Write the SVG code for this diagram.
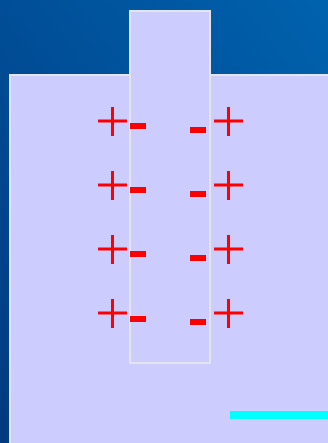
<svg xmlns="http://www.w3.org/2000/svg" width="328" height="443" viewBox="0 0 328 443">
  <defs>
    <linearGradient id="bg" x1="0" y1="1" x2="1" y2="0">
      <stop offset="0" stop-color="#003a80"/>
      <stop offset="1" stop-color="#0062ae"/>
    </linearGradient>
    <style>
      .plate { fill: #ccccff; stroke: #e4e4ec; stroke-width: 2; }
      .plus { stroke: #ff0000; stroke-width: 3; fill: none; }
      .minus { fill: #ff0000; }
    </style>
  </defs>
  <rect x="0" y="0" width="328" height="443" fill="url(#bg)"/>
  <g id="base">
    <rect class="plate" x="10" y="75" width="330" height="380"/>
  </g>
  <g id="slab">
    <rect class="plate" x="130" y="11" width="80" height="352"/>
  </g>
  <g id="charges-left-plus">
    <path class="plus" d="M98 121h29M112.5 107v29"/>
    <path class="plus" d="M98 185h29M112.5 171v29"/>
    <path class="plus" d="M98 249h29M112.5 235v29"/>
    <path class="plus" d="M98 313h29M112.5 299v29"/>
  </g>
  <g id="charges-right-plus">
    <path class="plus" d="M214 121h29M228.5 107v29"/>
    <path class="plus" d="M214 185h29M228.5 171v29"/>
    <path class="plus" d="M214 249h29M228.5 235v29"/>
    <path class="plus" d="M214 313h29M228.5 299v29"/>
  </g>
  <g id="charges-left-minus">
    <rect class="minus" x="130" y="123" width="16" height="6"/>
    <rect class="minus" x="130" y="187" width="16" height="6"/>
    <rect class="minus" x="130" y="251" width="16" height="6"/>
    <rect class="minus" x="130" y="316" width="16" height="6"/>
  </g>
  <g id="charges-right-minus">
    <rect class="minus" x="190" y="127" width="16" height="6"/>
    <rect class="minus" x="190" y="191" width="16" height="6"/>
    <rect class="minus" x="190" y="255" width="16" height="6"/>
    <rect class="minus" x="190" y="319" width="16" height="6"/>
  </g>
  <g id="connectors">
    <rect x="230" y="411" width="98" height="8" fill="#00ffff"/>
  </g>
</svg>
